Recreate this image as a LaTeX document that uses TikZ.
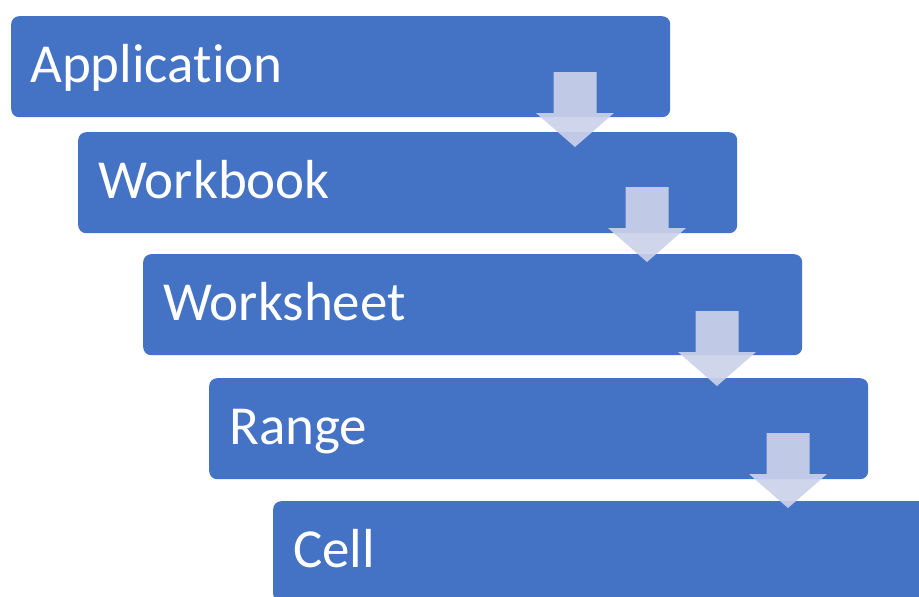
\documentclass[tikz,border=0pt]{standalone}
\usepackage{fontspec}
\setmainfont[Ligatures={NoCommon}]{Carlito}
\usetikzlibrary{calc}
\definecolor{boxblue}{RGB}{68,114,196}
\definecolor{arrowfill}{RGB}{203,210,233}
\tikzset{
  box/.style={rectangle, rounded corners=8pt, fill=boxblue, draw=none,
    minimum width=659pt, minimum height=101pt, anchor=north west, inner sep=0pt},
  lbl/.style={text=white, font=\fontsize{55}{60}\selectfont, anchor=base west, inner sep=0pt},
  pics/downarrow/.style={code={
    \fill[arrowfill, fill opacity=0.92] (-21.5,-75) -- (21.5,-75) -- (21.5,-34) -- (39,-34)
      -- (0,0) -- (-39,-34) -- (-21.5,-34) -- cycle;}}
}
\begin{document}
\begin{tikzpicture}[x=1pt,y=-1pt]
\useasboundingbox (0,0) rectangle (919,597);
\clip (0,0) rectangle (919,597);
\fill[white] (0,0) rectangle (919,597);
\node[box] (b1) at (11,16) {};
\node[box] (b2) at (78,132) {};
\node[box] (b3) at (143,254) {};
\node[box] (b4) at (209,378) {};
\node[box] (b5) at (273,501) {};
\node[lbl] (t1) at ($(b1.north west)+(19,66)$) {Application};
\node[lbl] (t2) at ($(b2.north west)+(20,66)$) {Workbook};
\node[lbl] (t3) at ($(b3.north west)+(20,66)$) {Worksheet};
\node[lbl] (t4) at ($(b4.north west)+(20,66)$) {Range};
\node[lbl] (t5) at ($(b5.north west)+(20,66)$) {Cell};
\pic at (575,147) {downarrow};
\pic at (647,262) {downarrow};
\pic at (717,386) {downarrow};
\pic at (788,508) {downarrow};
\end{tikzpicture}
\end{document}
